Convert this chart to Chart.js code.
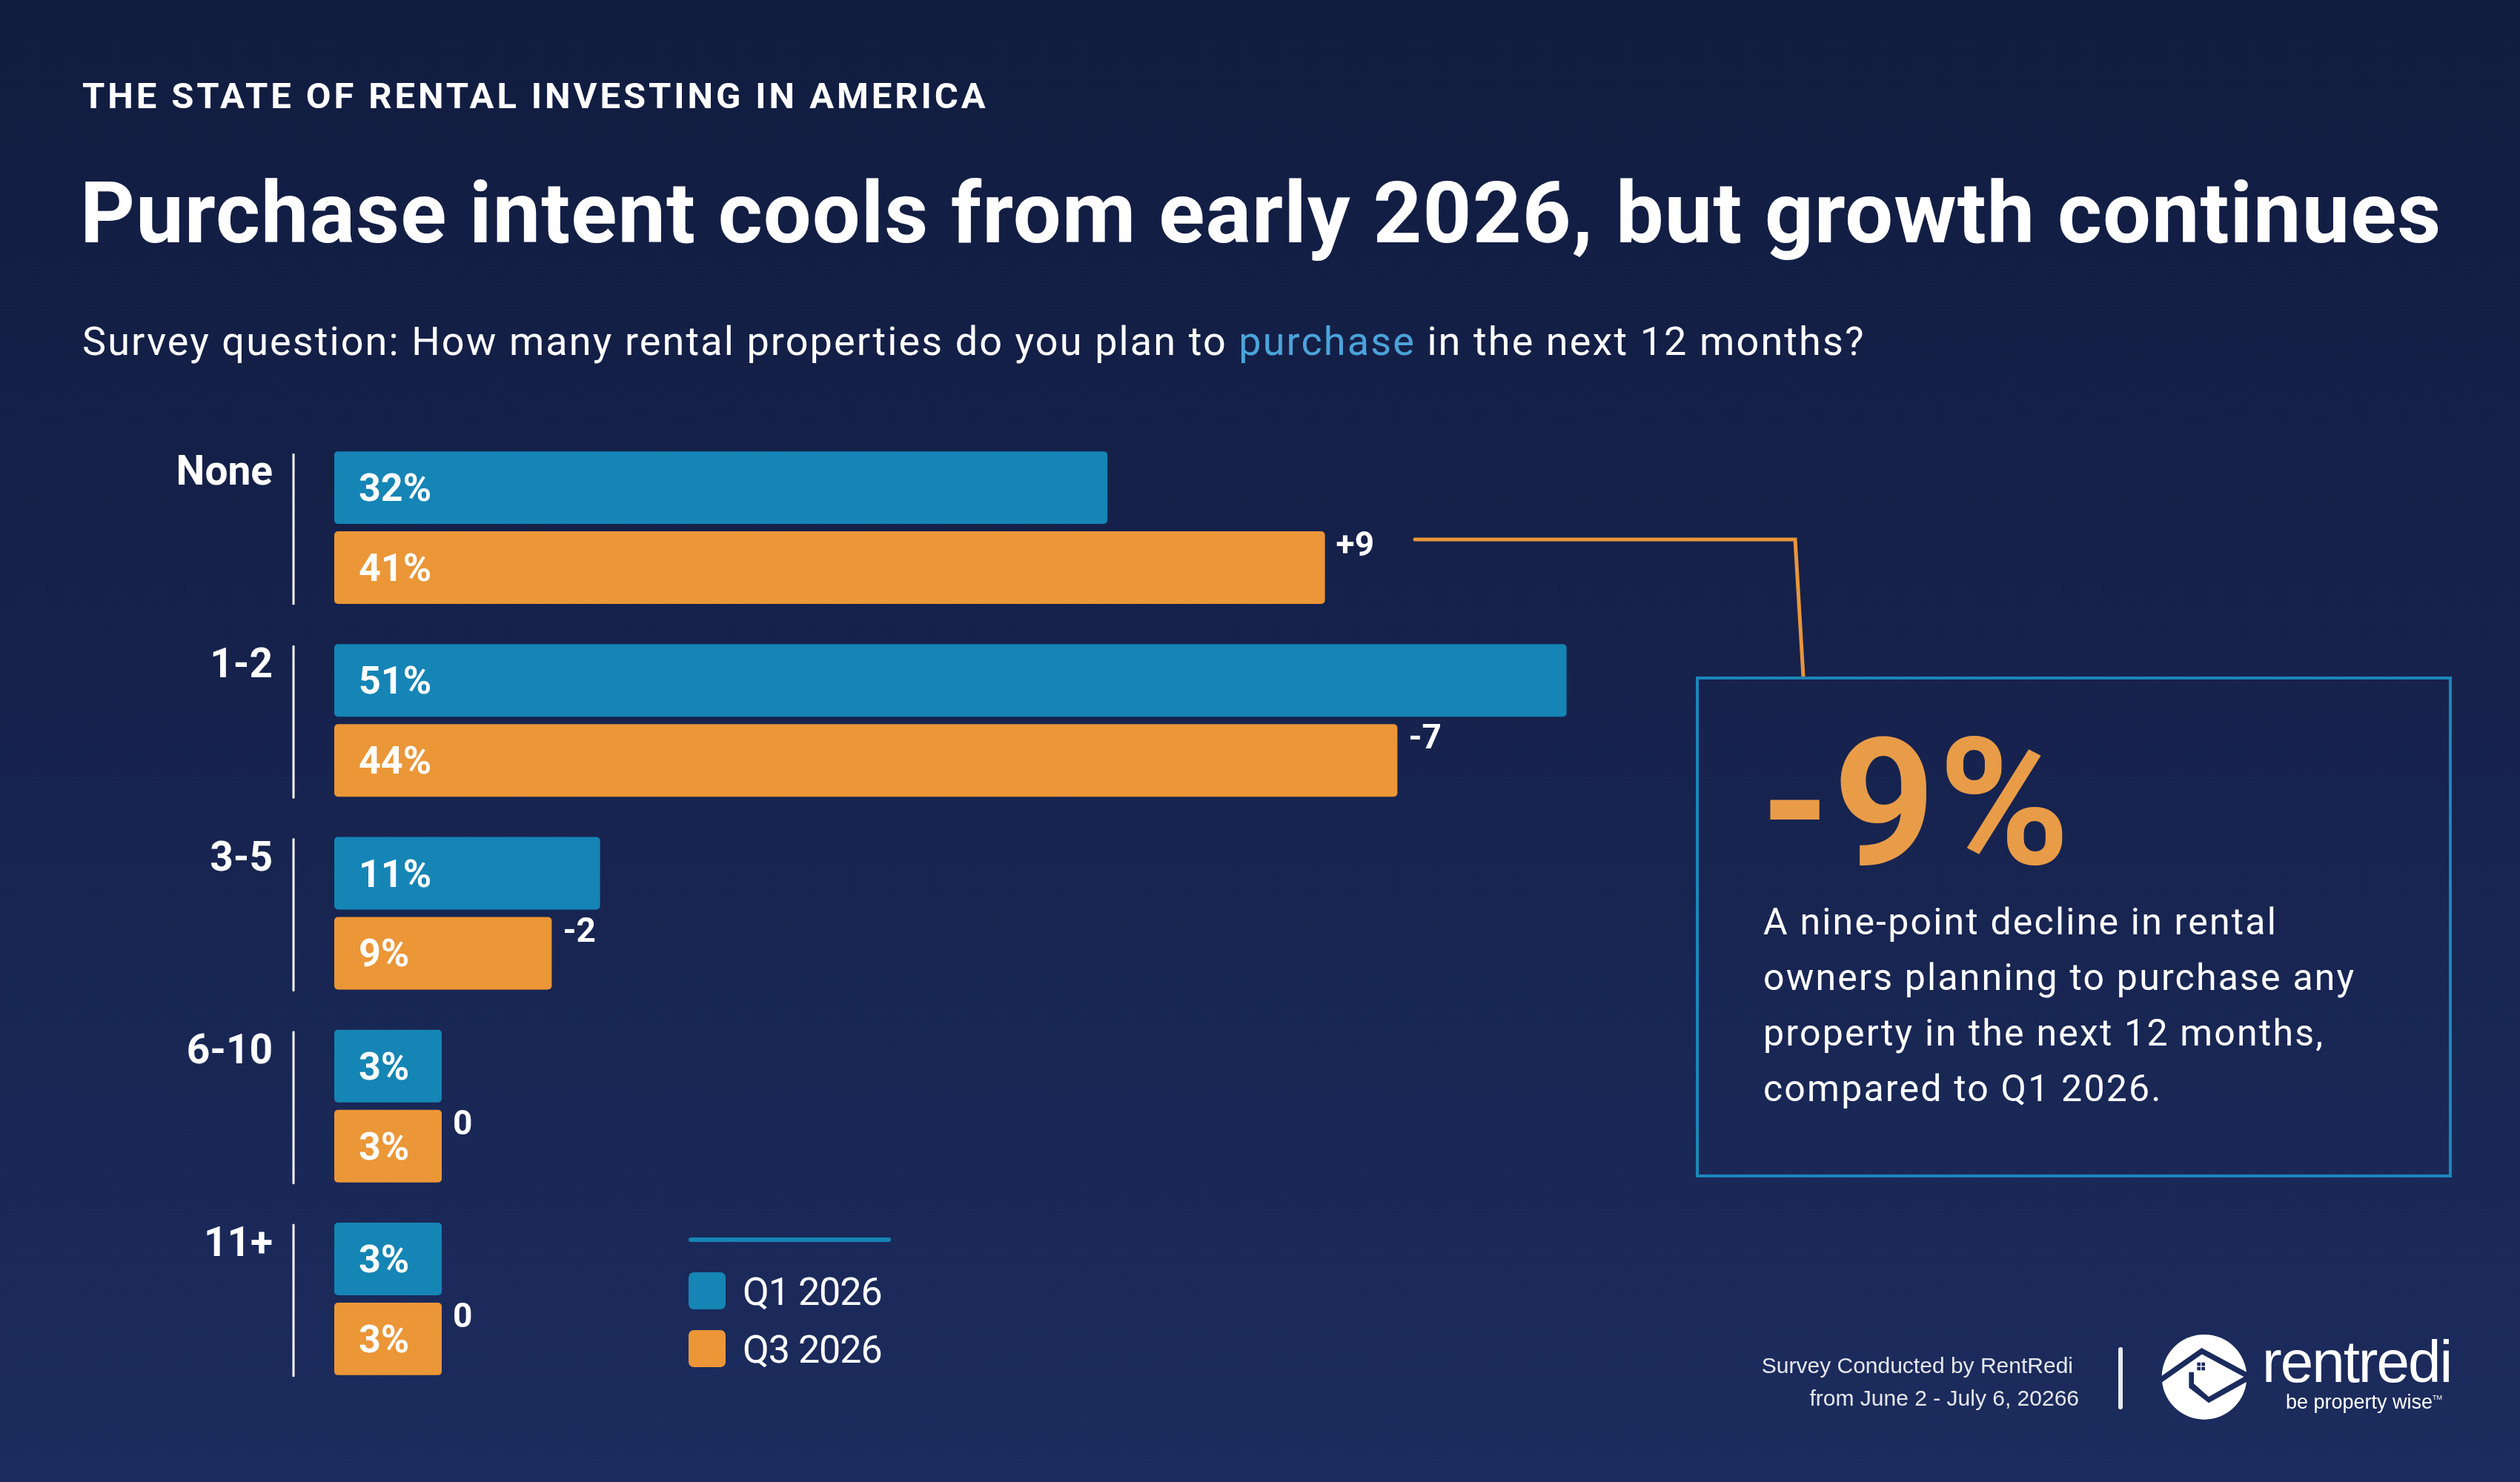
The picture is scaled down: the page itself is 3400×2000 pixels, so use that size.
<!DOCTYPE html>
<html>
<head>
<meta charset="utf-8">
<title>Purchase intent cools from early 2026, but growth continues</title>
<script src="https://cdn.jsdelivr.net/npm/chart.js@4.4.1/dist/chart.umd.min.js"></script>
<style>
  html, body { margin: 0; padding: 0; }
  body {
    width: 3400px; height: 2000px; position: relative; overflow: hidden;
    background: linear-gradient(180deg, #111c40 0%, #16224c 45%, #1c2c5e 100%);
    font-family: Roboto, "Noto Sans", sans-serif; color: #fff;
  }
  #chart { position: absolute; left: 0; top: 0; width: 3400px; height: 2000px; }
  .t { position: absolute; line-height: 1; white-space: nowrap; }
  .kicker { left: 111px; top: 105px; font-size: 49px; font-weight: 700; letter-spacing: 3.9px; }
  .title { left: 108px; top: 230px; font-size: 115px; font-weight: 700; letter-spacing: 1.1px; }
  .sub { left: 111px; top: 434px; font-size: 54px; font-weight: 400; letter-spacing: 2.1px; }
  .sub span { color: #4ba3da; }
  .box { position: absolute; left: 2288px; top: 913px; width: 1020px; height: 676px;
         border: 4px solid #1a87ba; box-sizing: border-box; }
  .big { left: 2375px; top: 964px; font-size: 240px; font-weight: 700; color: #e89c48; letter-spacing: 4px; }
  .body { position: absolute; left: 2379px; top: 1207px; font-size: 50px; line-height: 75px; letter-spacing: 2.2px; }
  .legline { position: absolute; left: 929px; top: 1670px; width: 273px; height: 6px; border-radius: 3px; background: #1585b5; }
  .sw { position: absolute; left: 929px; width: 50px; height: 50px; border-radius: 7px; }
  .leg { left: 1002px; font-size: 52px; letter-spacing: -1px; }
  .foot { position: absolute; font-family: "Liberation Sans", Arial, sans-serif; font-size: 30px; color: #e6e7ec; line-height: 1; white-space: nowrap; }
  .divider { position: absolute; left: 2858px; top: 1818px; width: 6px; height: 84px; border-radius: 3px; background: #e9eaef; }
  .brand { position: absolute; left: 3052px; top: 1798px; font-family: "Liberation Sans", Arial, sans-serif; font-size: 80px; line-height: 1; letter-spacing: -2px; color: #fff; }
  .tag { position: absolute; left: 3084px; top: 1879px; font-family: "Liberation Sans", Arial, sans-serif; font-size: 27px; line-height: 1; color: #fff; white-space: nowrap; }
  .tag sup { font-size: 9px; vertical-align: 12px; }
</style>
</head>
<body>
<canvas id="chart" width="3400" height="2000"></canvas>

<div class="t kicker">THE STATE OF RENTAL INVESTING IN AMERICA</div>
<div class="t title">Purchase intent cools from early 2026, but growth continues</div>
<div class="t sub">Survey question: How many rental properties do you plan to <span>purchase</span> in the next 12 months?</div>

<div class="box"></div>
<div class="t big">-9%</div>
<div class="body">A nine-point decline in rental<br>owners planning to purchase any<br>property in the next 12 months,<br>compared to Q1 2026.</div>

<div class="legline"></div>
<div class="sw" id="sw0" style="top:1717px"></div>
<div class="sw" id="sw1" style="top:1795px"></div>
<div class="t leg" id="leg0" style="top:1718px"></div>
<div class="t leg" id="leg1" style="top:1796px"></div>

<div class="foot" style="right:603px; top:1828px;">Survey Conducted by RentRedi</div>
<div class="foot" style="right:595px; top:1872px;">from June 2 - July 6, 20266</div>
<div class="divider"></div>
<svg style="position:absolute; left:2900px; top:1790px; width:150px; height:140px" viewBox="0 0 450 420">
  <circle cx="222" cy="205" r="172" fill="#fff"/>
  <polyline points="38,222 212,100 398,200" fill="none" stroke="#1b2b5d" stroke-width="22" stroke-linejoin="miter"/>
  <rect x="122" y="86" width="32" height="40" fill="#fff"/>
  <rect x="193" y="146" width="14" height="14" fill="#1b2b5d"/>
  <rect x="211" y="146" width="14" height="14" fill="#1b2b5d"/>
  <rect x="193" y="164" width="14" height="14" fill="#1b2b5d"/>
  <rect x="211" y="164" width="14" height="14" fill="#1b2b5d"/>
  <polygon points="160,185 180,185 180,232 240,285 398,195 398,222 240,310 160,248" fill="#1b2b5d"/>
</svg>
<div class="brand">rentredi</div>
<div class="tag">be property wise<sup>TM</sup></div>

<script>
const categories = ['None', '1-2', '3-5', '6-10', '11+'];
const q1Values = [32, 51, 11, 3, 3];
const q3Values = [41, 44, 9, 3, 3];
const changeLabels = ['+9', '-7', '-2', '0', '0'];
const seriesNames = ['Q1 2026', 'Q3 2026'];

const BLUE = '#1585b5';
const ORANGE = '#eb9637';
const seriesColors = [BLUE, ORANGE];

// legend is plain html
seriesNames.forEach((name, i) => {
  document.getElementById('leg' + i).textContent = name;
  document.getElementById('sw' + i).style.background = seriesColors[i];
});

const labelPlugin = {
  id: 'barLabels',
  afterDatasetsDraw(chart) {
    const ctx = chart.ctx;
    const xs = chart.scales.x;
    const q1 = chart.getDatasetMeta(0).data;
    const q3 = chart.getDatasetMeta(1).data;
    ctx.save();
    categories.forEach((cat, i) => {
      const a = q1[i], b = q3[i];
      const top = a.y - a.height / 2;
      const bottom = b.y + b.height / 2;

      // thin separator in front of each group
      ctx.strokeStyle = '#ffffff';
      ctx.lineWidth = 3;
      ctx.beginPath();
      ctx.moveTo(xs.left - 55, top + 3);
      ctx.lineTo(xs.left - 55, bottom + 1);
      ctx.stroke();

      ctx.fillStyle = '#ffffff';
      ctx.textBaseline = 'alphabetic';
      ctx.font = 'bold 55px Roboto';
      ctx.textAlign = 'right';
      ctx.fillText(cat, xs.left - 83, top + 45);

      ctx.textAlign = 'left';
      ctx.font = 'bold 52px Roboto';
      ctx.fillText(q1Values[i] + '%', a.base + 33, a.y + 18);
      ctx.fillText(q3Values[i] + '%', b.base + 33, b.y + 18);

      ctx.font = 'bold 46px Roboto';
      const cx = b.x + 15;
      const cy = b.y - b.height / 2 + 33;
      ctx.fillText(changeLabels[i], cx, cy);

      if (i === 0) {
        // callout line to the box
        const w = ctx.measureText(changeLabels[i]).width;
        const ly = b.y - b.height / 2 + 11;
        ctx.strokeStyle = '#e8963a';
        ctx.lineWidth = 5;
        ctx.lineCap = 'round';
        ctx.lineJoin = 'miter';
        ctx.beginPath();
        ctx.moveTo(cx + w + 55, ly);
        ctx.lineTo(2422, ly);
        ctx.lineTo(2433, 913);
        ctx.stroke();
      }
    });
    ctx.restore();
  }
};

new Chart(document.getElementById('chart').getContext('2d'), {
  type: 'bar',
  data: {
    labels: categories,
    datasets: [
      { label: seriesNames[0], data: q1Values, backgroundColor: BLUE },
      { label: seriesNames[1], data: q3Values, backgroundColor: ORANGE }
    ]
  },
  options: {
    indexAxis: 'y',
    responsive: false,
    animation: false,
    events: [],
    devicePixelRatio: 1,
    layout: { padding: { left: 451, right: 993, top: 582, bottom: 117 } },
    datasets: {
      bar: {
        categoryPercentage: 0.83,
        barPercentage: 0.907,
        borderRadius: 5,
        borderSkipped: false,
        minBarLength: 145
      }
    },
    scales: {
      x: { display: false, min: 0, max: 60 },
      y: { display: false }
    },
    plugins: { legend: { display: false }, tooltip: { enabled: false } }
  },
  plugins: [labelPlugin]
});
</script>
</body>
</html>
